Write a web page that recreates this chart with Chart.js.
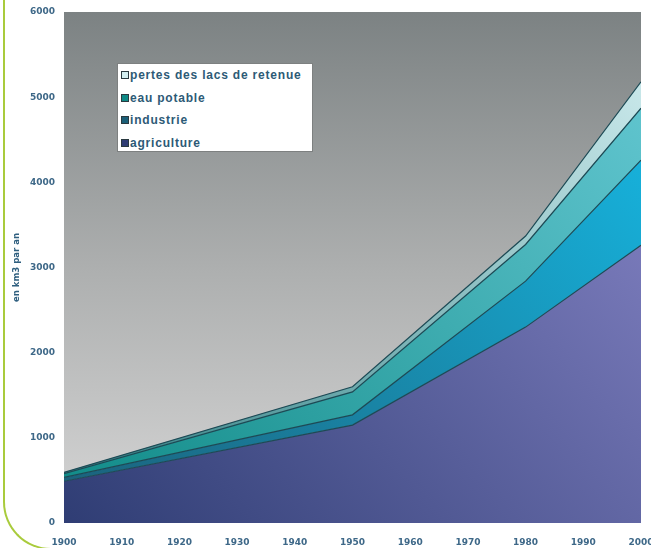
<!DOCTYPE html>
<html>
<head>
<meta charset="utf-8">
<script src="https://cdn.jsdelivr.net/npm/chart.js@4/dist/chart.umd.min.js"></script>
<style>
  body { margin: 0; background: #fff; }
  #wrap { position: relative; width: 651px; height: 548px; overflow: hidden; }
  #frame {
    position: absolute; left: 3px; top: -20px; width: 120px; height: 570px;
    border-left: 2px solid #a9cb3c; border-bottom: 2px solid #a9cb3c;
    border-bottom-left-radius: 48px; box-sizing: border-box;
  }
  #legend {
    position: absolute; left: 117px; top: 63px; width: 196px; height: 89px;
    background: #fff; border: 1px solid #7d8080; box-sizing: border-box;
    padding: 0 0 0 3px; overflow: hidden;
  }
  .row { height: 22.5px; display: flex; align-items: center; font: bold 12px "Liberation Sans", Arial, sans-serif; color: #2d5a76; letter-spacing: 0.8px; white-space: nowrap; }
  .box { width: 6px; height: 6px; border: 1px solid #2a3a40; margin-right: 1px; flex: none; }
</style>
</head>
<body>
<div id="wrap">
  <canvas id="chart" width="651" height="548"></canvas>
  <div id="frame"></div>
  <div id="legend"></div>
</div>
<script>
var years = [1900, 1950, 1980, 2000];
var agriculture = [490, 1150, 2300, 3260];
var industrie = [45, 120, 540, 1000];
var eauPotable = [45, 270, 430, 610];
var pertes = [15, 60, 100, 310];

var labels = ["agriculture", "industrie", "eau potable", "pertes des lacs de retenue"];
// colour at the lower-left and at the upper-right of the plot
var colorsFrom = ["#2f3d74", "#1b5f78", "#0f8a86", "#2a7c80"];
var colorsTo = ["#8a88ca", "#16bce8", "#66c9d4", "#d2eef0"];
var tickColor = "#3e6888";

function pts(values) {
  return values.map(function (v, i) { return { x: years[i], y: v }; });
}

function areaFill(i) {
  return function (context) {
    var chart = context.chart;
    var a = chart.chartArea;
    if (!a) return colorsFrom[i];
    var g = chart.ctx.createLinearGradient(a.left, a.bottom, a.right, a.top);
    g.addColorStop(0, colorsFrom[i]);
    g.addColorStop(1, colorsTo[i]);
    return g;
  };
}

var plotBackground = {
  id: "plotBackground",
  beforeDraw: function (chart) {
    var a = chart.chartArea;
    var ctx = chart.ctx;
    var g = ctx.createLinearGradient(0, a.top, 0, a.bottom);
    g.addColorStop(0, "#7c8283");
    g.addColorStop(0.5, "#adafaf");
    g.addColorStop(1, "#d6d6d6");
    ctx.save();
    ctx.fillStyle = g;
    ctx.fillRect(a.left, a.top, a.right - a.left, a.bottom - a.top);
    ctx.restore();
  }
};

var series = [agriculture, industrie, eauPotable, pertes];
var datasets = series.map(function (s, i) {
  return {
    label: labels[i],
    data: pts(s),
    fill: i === 0 ? "origin" : "-1",
    backgroundColor: areaFill(i),
    borderColor: "#1d4a55",
    borderWidth: 1.2,
    pointRadius: 0,
    tension: 0
  };
});

var tickFont = { family: "DejaVu Sans", size: 9, weight: "bold" };

new Chart(document.getElementById("chart"), {
  type: "line",
  data: { datasets: datasets },
  plugins: [plotBackground],
  options: {
    responsive: false,
    animation: false,
    layout: { padding: { top: 12, right: 10, left: 0, bottom: 0 } },
    plugins: { legend: { display: false }, tooltip: { enabled: false } },
    scales: {
      x: {
        type: "linear", min: 1900, max: 2000,
        grid: { display: false, drawTicks: false }, border: { display: false },
        ticks: { stepSize: 10, color: tickColor, font: tickFont, padding: 14, maxRotation: 0,
          callback: function (v) { return String(v); } },
        afterFit: function (s) { s.height = 25; s.paddingRight = 0; s.paddingLeft = 0; }
      },
      y: {
        stacked: true, min: 0, max: 6000,
        grid: { display: false, drawTicks: false }, border: { display: false },
        ticks: { stepSize: 1000, color: tickColor, font: tickFont, padding: 9,
          callback: function (v) { return String(v); } },
        title: { display: true, text: "en km3 par an", color: "#2f5f7f",
          font: { family: "DejaVu Sans", size: 8.5, weight: "bold" }, padding: { top: 12 } },
        afterFit: function (s) { s.width = 64; s.paddingTop = 0; s.paddingBottom = 0; }
      }
    }
  }
});

var legendEl = document.getElementById("legend");
for (var i = labels.length - 1; i >= 0; i--) {
  var row = document.createElement("div");
  row.className = "row";
  var box = document.createElement("span");
  box.className = "box";
  box.style.background = i === 3 ? colorsTo[i] : colorsFrom[i];
  var t = document.createElement("span");
  t.textContent = labels[i];
  row.appendChild(box);
  row.appendChild(t);
  legendEl.appendChild(row);
}
</script>
</body>
</html>
